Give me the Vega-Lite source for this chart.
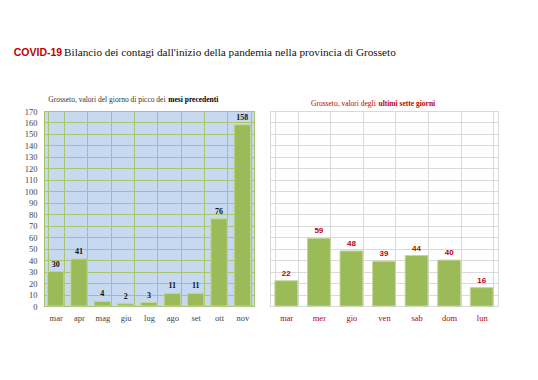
{
  "$schema": "https://vega.github.io/schema/vega-lite/v6.json",
  "background": "white",
  "padding": {"left": 13, "top": 46, "right": 5, "bottom": 5},
  "spacing": 14,
  "title": {
    "text": "COVID-19",
    "subtitle": "\u200b\u00a0\u00a0\u00a0\u00a0\u00a0\u00a0\u00a0\u00a0\u00a0\u00a0\u00a0\u00a0\u00a0\u00a0\u00a0\u00a0\u00a0\u00a0Bilancio dei contagi dall'inizio della pandemia nella provincia di Grosseto",
    "anchor": "start",
    "frame": "bounds",
    "dx": -10,
    "font": "Liberation Sans",
    "fontWeight": "bold",
    "fontSize": 10.5,
    "color": "#c00000",
    "subtitleFont": "Liberation Serif",
    "subtitleFontSize": 11.2,
    "subtitleFontWeight": "normal",
    "subtitleColor": "#111111",
    "subtitlePadding": -11.5,
    "offset": 36
  },
  "config": {
    "axis": {"labelFont": "Liberation Serif", "labelFontSize": 8.5, "ticks": false, "titleFontSize": 0}
  },
  "hconcat": [
    {
      "width": 210,
      "height": 195,
      "view": {"fill": "#c6d9f0", "stroke": "#a9c46c"},
      "title": {
        "text": "Grosseto, valori del giorno di picco dei",
        "subtitle": "\u200b\u00a0\u00a0\u00a0\u00a0\u00a0\u00a0\u00a0\u00a0\u00a0\u00a0\u00a0\u00a0\u00a0\u00a0\u00a0\u00a0\u00a0\u00a0\u00a0\u00a0\u00a0\u00a0\u00a0\u00a0\u00a0\u00a0\u00a0\u00a0\u00a0\u00a0\u00a0\u00a0\u00a0\u00a0\u00a0\u00a0\u00a0\u00a0\u00a0\u00a0\u00a0\u00a0\u00a0\u00a0\u00a0\u00a0\u00a0\u00a0\u00a0\u00a0\u00a0\u00a0\u00a0\u00a0\u00a0\u00a0\u00a0\u00a0\u00a0\u00a0\u00a0\u00a0\u00a0\u00a0mesi precedenti",
        "anchor": "start",
        "dx": 24,
        "font": "Liberation Serif",
        "fontSize": 7.5,
        "fontWeight": "normal",
        "color": "#333333",
        "subtitleFont": "Liberation Serif",
        "subtitleFontSize": 7.5,
        "subtitleFontWeight": "bold",
        "subtitleColor": "#000000",
        "subtitlePadding": -8,
        "offset": 3
      },
      "data": {
        "values": [
          {"mese": "mar", "valore": 30},
          {"mese": "apr", "valore": 41},
          {"mese": "mag", "valore": 4},
          {"mese": "giu", "valore": 2},
          {"mese": "lug", "valore": 3},
          {"mese": "ago", "valore": 11},
          {"mese": "set", "valore": 11},
          {"mese": "ott", "valore": 76},
          {"mese": "nov", "valore": 158}
        ]
      },
      "encoding": {
        "x": {
          "field": "mese", "type": "nominal", "sort": null, "title": null,
          "scale": {"paddingInner": 0.3, "paddingOuter": 0.15},
          "axis": {"labelAngle": 0, "tickBand": "extent", "grid": true, "gridColor": "#a9c46c", "gridOpacity": 1, "domainColor": "#a9c46c", "labelColor": "#444444", "labelPadding": 7}
        },
        "y": {
          "field": "valore", "type": "quantitative", "title": null,
          "scale": {"domain": [0, 170], "nice": false},
          "axis": {"values": [0,10,20,30,40,50,60,70,80,90,100,110,120,130,140,150,160,170], "grid": true, "gridColor": "#a9c46c", "gridOpacity": 1, "domain": false, "labelColor": "#444444", "labelPadding": 7}
        }
      },
      "layer": [
        {"mark": {"type": "bar", "color": "#9bbb59", "stroke": "#c3d69b", "strokeWidth": 1}},
        {"mark": {"type": "text", "dy": -7, "font": "Liberation Serif", "fontSize": 8, "fontWeight": "bold", "color": "#111111"},
         "encoding": {"text": {"field": "valore", "type": "quantitative"}}}
      ]
    },
    {
      "width": 228,
      "height": 195,
      "view": {"fill": "white", "stroke": "#d9d9d9"},
      "title": {
        "text": "Grosseto, valori degli",
        "subtitle": "\u200b\u00a0\u00a0\u00a0\u00a0\u00a0\u00a0\u00a0\u00a0\u00a0\u00a0\u00a0\u00a0\u00a0\u00a0\u00a0\u00a0\u00a0\u00a0\u00a0\u00a0\u00a0\u00a0\u00a0\u00a0\u00a0\u00a0\u00a0\u00a0\u00a0\u00a0\u00a0\u00a0\u00a0\u00a0\u00a0\u00a0ultimi sette giorni",
        "anchor": "start",
        "dx": 41,
        "font": "Liberation Serif",
        "fontSize": 7.5,
        "fontWeight": "normal",
        "color": "#c00000",
        "subtitleFont": "Liberation Serif",
        "subtitleFontSize": 7.5,
        "subtitleFontWeight": "bold",
        "subtitleColor": "#c00000",
        "subtitlePadding": -8,
        "offset": 3
      },
      "data": {
        "values": [
          {"giorno": "mar", "valore": 22},
          {"giorno": "mer", "valore": 59},
          {"giorno": "gio", "valore": 48},
          {"giorno": "ven", "valore": 39},
          {"giorno": "sab", "valore": 44},
          {"giorno": "dom", "valore": 40},
          {"giorno": "lun", "valore": 16}
        ]
      },
      "encoding": {
        "x": {
          "field": "giorno", "type": "nominal", "sort": null, "title": null,
          "scale": {"paddingInner": 0.3, "paddingOuter": 0.15},
          "axis": {"labelAngle": 0, "tickBand": "extent", "grid": true, "gridColor": "#d9d9d9", "gridOpacity": 1, "domainColor": "#d9d9d9", "labelColor": "#c00000", "labelPadding": 7}
        },
        "y": {
          "field": "valore", "type": "quantitative", "title": null,
          "scale": {"domain": [0, 170], "nice": false},
          "axis": {"values": [0,10,20,30,40,50,60,70,80,90,100,110,120,130,140,150,160,170], "grid": true, "gridColor": "#d9d9d9", "gridOpacity": 1, "domain": false, "labels": false}
        }
      },
      "layer": [
        {"mark": {"type": "bar", "color": "#9bbb59", "stroke": "#c3d69b", "strokeWidth": 1}},
        {"mark": {"type": "text", "dy": -7, "font": "Liberation Sans", "fontSize": 8, "fontWeight": "bold", "color": "#c00000"},
         "encoding": {"text": {"field": "valore", "type": "quantitative"}}}
      ]
    }
  ]
}
